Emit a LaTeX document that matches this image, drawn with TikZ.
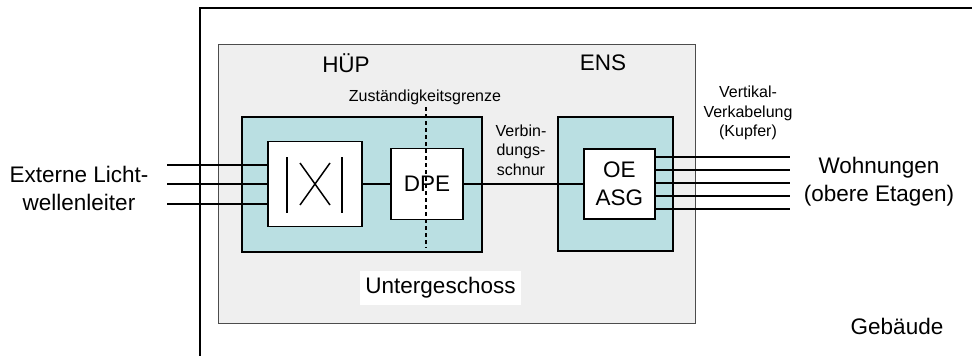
\documentclass[tikz,border=0pt]{standalone}
\usepackage{fontspec}
\setmainfont{Liberation Sans}
\usetikzlibrary{positioning}
\definecolor{tuerkis}{HTML}{BADFE2}
\definecolor{hellgrau}{HTML}{EFEFEF}
\begin{document}
\begin{tikzpicture}[x=1pt, y=-1pt,
    box/.style={draw, line width=1.9pt, fill=white, inner sep=0pt},
    kasten/.style={draw, line width=1.9pt, fill=tuerkis, inner sep=0pt},
    leitung/.style={line width=1.9pt},
    gross/.style={font=\fontsize{22.5}{28}\selectfont, align=center, inner sep=0pt},
    klein/.style={font=\fontsize{16}{19.5}\selectfont, align=center, inner sep=0pt}]
                \useasboundingbox (0,0) rectangle (972,356);
                \draw[line width=1.1pt] (200,356) -- (200,8) -- (972,8);

                \node[draw=black!70, fill=hellgrau, line width=1pt, minimum width=477pt, minimum height=279pt] (UG) at (456.5,183.5) {};
                \node[kasten, minimum width=240pt, minimum height=135pt] (HUEP) at (362,184.5) {};
                \node[kasten, minimum width=115pt, minimum height=134pt] (ENS) at (615.5,184) {};

                \node[box, minimum width=94pt, minimum height=85pt] (X) at (315,184) {};
                \node[box, gross, minimum width=72pt, minimum height=71pt, right=27pt of X] (DPE) {DPE};
                \node[box, gross, minimum width=71pt, minimum height=70pt, right=119pt of DPE] (OE) {OE\\ASG};

                % Symbol im Verteiler
                \draw[line width=1.5pt] ([shift={(-28,-27)}]X.center) -- ++(0,56);
                \draw[line width=1.5pt] ([shift={(27,-27)}]X.center) -- ++(0,56);
                \draw[line width=1.5pt] ([shift={(-15,-21)}]X.center) -- ++(30,42);
                \draw[line width=1.5pt] ([shift={(15,-21)}]X.center) -- ++(-30,42);

                \draw[line width=1.3pt, dash pattern=on 4pt off 3pt] (426,107) coordinate (G1) -- (426,248) coordinate (G2);

                \foreach \y [count=\i] in {165,184,204} {
                    \coordinate (in\i) at (167,\y);
                    \draw[leitung] (in\i) -- (X.west |- in\i);
                }
                \draw[leitung] (X.east) -- (DPE.west);
                \draw[leitung] (DPE.east) -- (OE.west);
                \foreach \y [count=\i] in {157,170,183,196,209} {
                    \coordinate (out\i) at (790,\y);
                    \draw[leitung] (OE.east |- out\i) -- (out\i);
                }

                \node[gross] (ext) at (79,188) {Externe Licht-\\wellenleiter};
                \node[gross] (hup) at (346,63) {HÜP};
                \node[gross] (ens) at (603,63) {ENS};
                \node[klein] (grenze) at (425,97) {Zuständigkeitsgrenze};
                \node[klein] (schnur) at (521,150) {Verbin-\\dungs-\\schnur};
                \node[klein] (vertikal) at (748,113) {Vertikal-\\Verkabelung\\(Kupfer)};
                \node[gross] (wohn) at (879,182) {Wohnungen\\(obere Etagen)};
                \node[gross, fill=white, minimum width=161pt, minimum height=34pt] (ug) at (440.5,288) {Untergeschoss};
                \node[gross] (geb) at (897,326) {Gebäude};
            \end{tikzpicture}
\end{document}
